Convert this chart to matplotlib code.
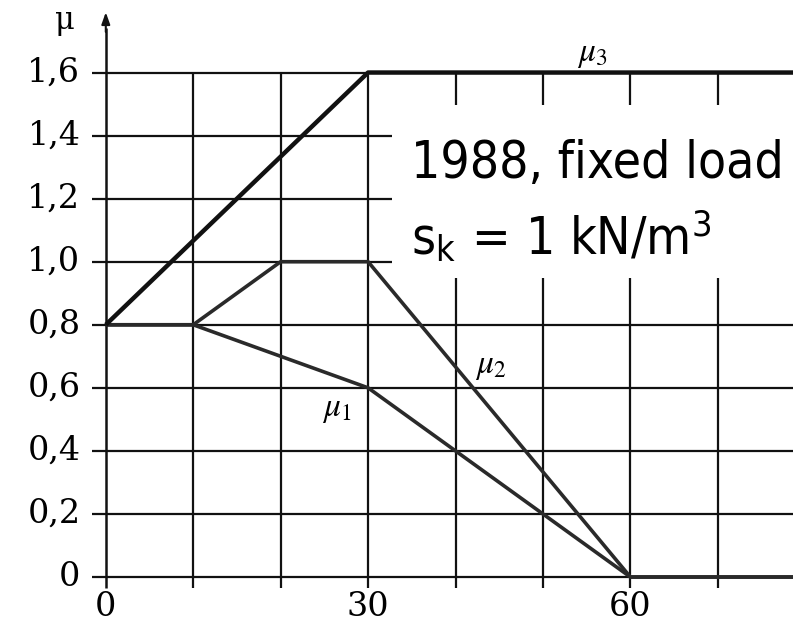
import matplotlib
matplotlib.use("Agg")
import matplotlib.pyplot as plt
from matplotlib.patches import Rectangle

# Data
x_ticks = [0, 10, 20, 30, 40, 50, 60, 70]
x_labels = {0: "0", 30: "30", 60: "60"}
y_ticks = [0, 0.2, 0.4, 0.6, 0.8, 1.0, 1.2, 1.4, 1.6]
y_labels = ["0", "0,2", "0,4", "0,6", "0,8", "1,0", "1,2", "1,4", "1,6"]

mu1_x = [0, 10, 30, 60, 80]
mu1_y = [0.8, 0.8, 0.6, 0.0, 0.0]
mu2_x = [0, 10, 20, 30, 60, 80]
mu2_y = [0.8, 0.8, 1.0, 1.0, 0.0, 0.0]
mu3_x = [0, 30, 80]
mu3_y = [0.8, 1.6, 1.6]

plt.rcParams["mathtext.fontset"] = "stix"

fig = plt.figure(figsize=(7.93, 6.24), dpi=100)
ax = fig.add_axes([0, 0, 1, 1])
ax.set_xlim(-12.1, 78.6)
ax.set_ylim(-0.149, 1.83)
ax.axis("off")

serif = ["DejaVu Serif"]

# grid
ax.hlines(y_ticks, -1.6, 80, color="#111111", lw=1.6, zorder=1)
ax.vlines(x_ticks[1:], -0.035, 1.6, color="#111111", lw=1.6, zorder=1)
# y axis with arrow
ax.vlines(0, -0.035, 1.74, color="#111111", lw=1.8, zorder=2)
ax.annotate("", xy=(0, 1.80), xytext=(0, 1.72),
            arrowprops=dict(arrowstyle="-|>,head_width=0.25,head_length=0.7",
                            color="#111111", lw=1.5))

# curves
ax.plot(mu1_x, mu1_y, color="#2a2a2a", lw=2.6, zorder=3, solid_capstyle="butt")
ax.plot(mu2_x, mu2_y, color="#2a2a2a", lw=2.6, zorder=3, solid_capstyle="butt")
ax.plot(mu3_x, mu3_y, color="#111111", lw=3.2, zorder=4, solid_capstyle="butt")

# tick labels
for yv, lab in zip(y_ticks, y_labels):
    ax.text(-2.9, yv, lab, ha="right", va="center", fontsize=24, family=serif)
for xv in x_ticks:
    if xv in x_labels:
        ax.text(xv, -0.045, x_labels[xv], ha="center", va="top", fontsize=24, family=serif)
ax.text(-4.7, 1.765, "μ", ha="center", va="center", fontsize=22, family=serif)

# curve labels
ax.text(55.7, 1.66, r"$\mu_3$", ha="center", va="center", fontsize=24)
ax.text(44.0, 0.67, r"$\mu_2$", ha="center", va="center", fontsize=24)
ax.text(26.4, 0.535, r"$\mu_1$", ha="center", va="center", fontsize=24)

# white panel behind annotation
ax.add_patch(Rectangle((0.494, 0.5545), 0.51, 0.2775, transform=ax.transAxes,
                       facecolor="white", edgecolor="none", zorder=5))

# annotation (condensed sans)
fp = dict(family="DejaVu Sans", stretch="condensed")
ax.text(34.9, 1.267, "1988, fixed load", ha="left", va="baseline", fontsize=37,
        zorder=6, **fp)
ax.text(34.9, 1.022, r"s$_\mathregular{k}$ = 1 kN/m$^\mathregular{3}$", ha="left",
        va="baseline", fontsize=37, zorder=6, **fp)

fig.savefig("out.png", dpi=100)
